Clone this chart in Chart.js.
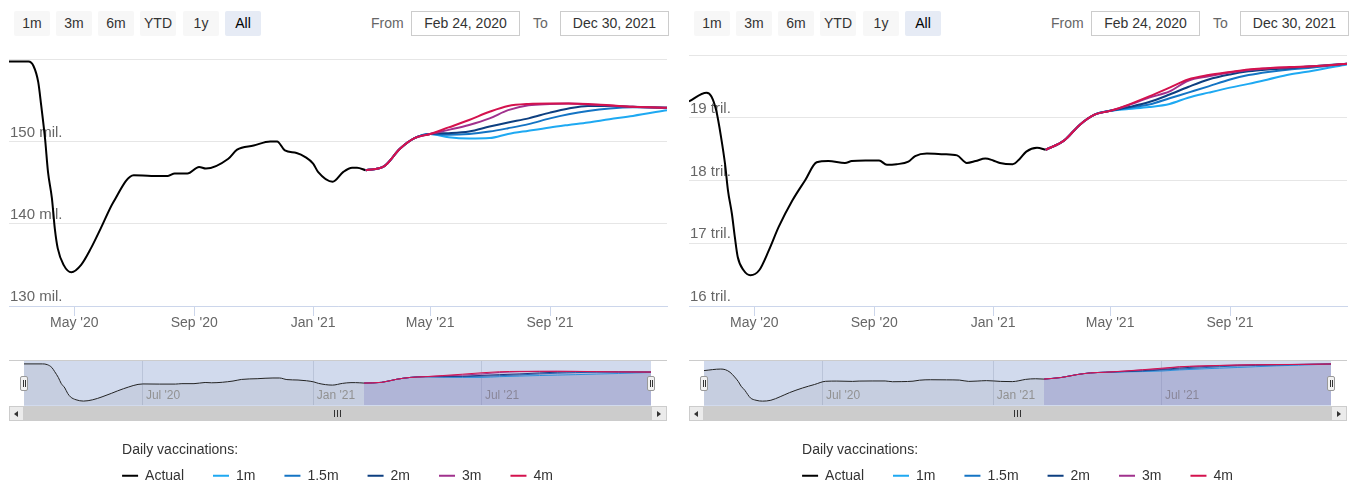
<!DOCTYPE html>
<html lang="en">
<head>
<meta charset="utf-8">
<title>Forecasts by daily vaccinations</title>
<script src="https://cdn.jsdelivr.net/npm/chart.js@4.4.1/dist/chart.umd.min.js"></script>
<style>
  html, body { margin: 0; padding: 0; background: #fff; }
  body { width: 1351px; height: 487px; overflow: hidden; position: relative;
         font-family: 'Liberation Sans', Arial, Helvetica, sans-serif; }
  .panel { position: absolute; top: 0; width: 671px; height: 487px; }
  .btn { position: absolute; top: 11px; width: 36px; height: 25px; line-height: 25px; text-align: center;
         font-size: 14px; color: #333; background: #f7f7f7; border-radius: 2px; }
  .btn.sel { background: #e6ebf5; color: #000; }
  .lbl { position: absolute; top: 11px; line-height: 25px; font-size: 14px; color: #666; }
  .date { position: absolute; top: 11px; width: 107px; height: 23px; line-height: 23px; border: 1px solid #ccc;
          text-align: center; font-size: 14px; color: #333; }
  canvas { position: absolute; left: 0; }
  .mask { position: absolute; left: 24px; top: 361px; width: 627px; height: 45px; background: rgba(102,133,194,0.3); }
  .outline { position: absolute; left: 9px; top: 360px; width: 658px; height: 1px; background: #ccc; }
  .handle { position: absolute; top: 376px; width: 8px; height: 15px; box-sizing: border-box; background: #f2f2f2;
            border: 1px solid #999; border-radius: 2px; }
  .handle::before, .handle::after { content: ''; position: absolute; top: 3px; width: 1px; height: 7px; background: #333; }
  .handle::before { left: 2px; }
  .handle::after { left: 4px; }
  .sb { position: absolute; top: 406px; height: 15px; box-sizing: border-box; }
  .sb-track { left: 9px; width: 658px; background: #f2f2f2; }
  .sb-bar { left: 24px; width: 627px; background: #ccc; }
  .sb-btn { width: 15px; background: #ebebeb; border: 1px solid #ccc; }
  .arrow { position: absolute; top: 4px; width: 0; height: 0; border-top: 3px solid transparent; border-bottom: 3px solid transparent; }
  .grip { position: absolute; top: 410px; width: 1px; height: 7px; background: #333; }
</style>
</head>
<body>
<div class="panel" id="left"></div>
<div class="panel" id="right" style="left:680px"></div>
<script>
'use strict';

const seriesNames = ['Actual', '1m', '1.5m', '2m', '3m', '4m'];
const seriesColors = ['#000000', '#1ea9f2', '#1474c4', '#0d3f80', '#a0318d', '#d4124e'];
const legendTitle = 'Daily vaccinations:';

const buttonLabels = ['1m', '3m', '6m', 'YTD', '1y', 'All'];
const fromText = 'Feb 24, 2020';
const toText = 'Dec 30, 2021';

const firstDate = '2020-02-24';
const lastDate = '2021-12-30';

const mainTickDates = ['2020-05-01', '2020-09-01', '2021-01-01', '2021-05-01', '2021-09-01'];
const mainTickLabels = ["May '20", "Sep '20", "Jan '21", "May '21", "Sep '21"];
const navTickDates = ['2020-07-01', '2021-01-01', '2021-07-01'];
const navTickLabels = ["Jul '20", "Jan '21", "Jul '21"];

const yTicksLeft = [130, 140, 150, 160];
const yRangeLeft = [130, 160.5];
const navRangeLeft = [131.4, 161.7];
const yTicksRight = [16, 17, 18, 19, 20];
const yRangeRight = [16, 20];
const navRangeRight = [16.14, 20.13];

const actualDatesLeft = ['2020-02-24', '2020-03-15', '2020-03-20', '2020-03-25', '2020-03-28', '2020-04-01',
  '2020-04-04', '2020-04-08', '2020-04-11', '2020-04-14', '2020-04-20', '2020-04-28', '2020-05-08', '2020-05-18',
  '2020-05-28', '2020-06-10', '2020-07-01', '2020-07-19', '2020-08-05', '2020-08-12', '2020-08-25', '2020-09-06',
  '2020-09-13', '2020-10-06', '2020-10-15', '2020-11-01', '2020-11-18', '2020-11-25', '2020-12-03', '2020-12-15',
  '2020-12-24', '2021-01-01', '2021-01-06', '2021-01-21', '2021-02-01', '2021-02-10', '2021-02-15', '2021-02-24'];
const actualLeft = [159.7, 159.7, 159.2, 157.2, 154.4, 150.3, 146.3, 143.1, 139.4, 137.0, 135.0, 134.1, 135.0,
  137.0, 139.4, 142.6, 145.9, 145.8, 145.8, 146.1, 146.1, 146.9, 146.7, 147.9, 149.0, 149.5, 150.0, 150.0, 148.9,
  148.6, 148.1, 147.3, 146.3, 145.1, 146.3, 146.8, 146.8, 146.5];

const actualDatesRight = ['2020-02-24', '2020-03-13', '2020-03-18', '2020-03-23', '2020-03-28', '2020-04-01',
  '2020-04-04', '2020-04-08', '2020-04-11', '2020-04-14', '2020-04-20', '2020-04-27', '2020-05-06', '2020-05-16',
  '2020-05-26', '2020-06-09', '2020-06-22', '2020-07-04', '2020-07-16', '2020-08-02', '2020-08-09', '2020-08-23',
  '2020-09-06', '2020-09-14', '2020-09-24', '2020-10-06', '2020-10-13', '2020-10-25', '2020-11-11', '2020-11-25',
  '2020-12-05', '2020-12-14', '2020-12-24', '2021-01-01', '2021-01-08', '2021-01-21', '2021-01-28', '2021-02-04',
  '2021-02-15', '2021-02-24'];
const actualRight = [19.26, 19.40, 19.34, 19.11, 18.68, 18.26, 17.84, 17.47, 17.10, 16.78, 16.57, 16.49, 16.57,
  16.89, 17.26, 17.68, 18.00, 18.29, 18.31, 18.28, 18.31, 18.32, 18.32, 18.25, 18.26, 18.30, 18.39, 18.43, 18.42,
  18.40, 18.28, 18.31, 18.35, 18.32, 18.28, 18.26, 18.34, 18.46, 18.52, 18.49];

const forecastDates = ['2021-02-24', '2021-03-15', '2021-03-31', '2021-04-15', '2021-05-01', '2021-05-20',
  '2021-06-10', '2021-07-01', '2021-07-20', '2021-08-10', '2021-09-01', '2021-09-20', '2021-10-10', '2021-11-01',
  '2021-11-25', '2021-12-30'];

const left1m  = [146.5, 147.0, 149.1, 150.4, 150.9, 150.5, 150.35, 150.4, 150.9, 151.3, 151.7, 152.0, 152.3, 152.7, 153.1, 153.8];
const left15m = [146.5, 147.0, 149.1, 150.4, 150.9, 150.8, 150.9, 151.2, 151.6, 152.1, 152.8, 153.3, 153.7, 154.0, 154.15, 154.1];
const left2m  = [146.5, 147.0, 149.1, 150.4, 150.9, 151.0, 151.2, 151.8, 152.3, 152.8, 153.5, 154.0, 154.3, 154.3, 154.2, 154.1];
const left3m  = [146.5, 147.0, 149.1, 150.4, 150.9, 151.4, 152.0, 152.8, 153.8, 154.4, 154.55, 154.6, 154.5, 154.35, 154.2, 154.1];
const left4m  = [146.5, 147.0, 149.1, 150.4, 150.9, 151.7, 152.6, 153.6, 154.3, 154.55, 154.6, 154.6, 154.55, 154.4, 154.2, 154.1];

const right1m  = [18.49, 18.64, 18.89, 19.05, 19.11, 19.14, 19.17, 19.22, 19.32, 19.40, 19.48, 19.54, 19.61, 19.69, 19.75, 19.85];
const right15m = [18.49, 18.64, 18.89, 19.05, 19.11, 19.16, 19.21, 19.31, 19.40, 19.50, 19.61, 19.68, 19.73, 19.77, 19.80, 19.86];
const right2m  = [18.49, 18.64, 18.89, 19.05, 19.11, 19.17, 19.25, 19.37, 19.49, 19.61, 19.69, 19.74, 19.77, 19.79, 19.82, 19.86];
const right3m  = [18.49, 18.64, 18.89, 19.05, 19.11, 19.20, 19.32, 19.42, 19.59, 19.66, 19.72, 19.76, 19.79, 19.80, 19.82, 19.86];
const right4m  = [18.49, 18.64, 18.89, 19.05, 19.11, 19.21, 19.34, 19.48, 19.61, 19.68, 19.73, 19.77, 19.79, 19.81, 19.82, 19.86];

Chart.defaults.font.family = "'Liberation Sans', Arial, Helvetica, sans-serif";
Chart.defaults.animation = false;

const DAY0 = Date.UTC(2020, 1, 24);
function dayOf(s) {
  const p = s.split('-').map(Number);
  return Math.round((Date.UTC(p[0], p[1] - 1, p[2]) - DAY0) / 86400000);
}

function points(dates, values) {
  return dates.map(function(d, i) { return {x: dayOf(d), y: values[i]}; });
}

function rgba(hex, a) {
  const n = parseInt(hex.slice(1), 16);
  return 'rgba(' + (n >> 16) + ',' + ((n >> 8) & 255) + ',' + (n & 255) + ',' + a + ')';
}

// legend title drawn in line with the first legend item (Chart.js centres it otherwise)
const legendTitlePlugin = {
  id: 'legendTitleStart',
  afterDraw: function(chart) {
    const lg = chart.legend;
    if (!lg || !lg.legendHitBoxes || !lg.legendHitBoxes.length) return;
    const ctx = chart.ctx;
    ctx.save();
    ctx.font = "14px 'Liberation Sans', Arial, Helvetica, sans-serif";
    ctx.fillStyle = '#333';
    ctx.textAlign = 'left';
    ctx.textBaseline = 'middle';
    ctx.fillText(legendTitle, lg.legendHitBoxes[0].left, lg.top + 41);
    ctx.restore();
  }
};

function buildDatasets(actualDates, actual, forecasts, nav) {
  return seriesNames.map(function(name, i) {
    const data = i === 0 ? points(actualDates, actual) : points(forecastDates, forecasts[i - 1]);
    return {
      label: name,
      data: data,
      borderColor: nav && i === 0 ? '#222' : seriesColors[i],
      backgroundColor: nav ? rgba(seriesColors[i], i === 0 ? 0.05 : 0.06) : seriesColors[i],
      borderWidth: nav ? 1 : 2,
      fill: nav ? 'start' : false,
      pointRadius: 0,
      cubicInterpolationMode: 'monotone',
      order: 5 - i
    };
  });
}

function addCanvas(panel, top, h) {
  const c = document.createElement('canvas');
  c.width = 671;
  c.height = h;
  c.style.top = top + 'px';
  panel.appendChild(c);
  return c;
}

function buildChrome(panel) {
  const lefts = [14, 56, 98, 140, 183, 225];
  let html = '';
  buttonLabels.forEach(function(b, i) {
    html += '<div class="btn' + (b === 'All' ? ' sel' : '') + '" style="left:' + lefts[i] + 'px">' + b + '</div>';
  });
  html += '<div class="lbl" style="left:371px">From</div>';
  html += '<div class="date" style="left:411px">' + fromText + '</div>';
  html += '<div class="lbl" style="left:533px">To</div>';
  html += '<div class="date" style="left:560px">' + toText + '</div>';
  html += '<div class="outline"></div><div class="mask"></div>';
  panel.innerHTML = html;
}

function buildScrollbar(panel) {
  let html = '<div class="sb sb-track"></div><div class="sb sb-bar"></div>';
  html += '<div class="sb sb-btn" style="left:9px"><div class="arrow" style="left:4px;border-right:4px solid #333"></div></div>';
  html += '<div class="sb sb-btn" style="left:651px;width:16px"><div class="arrow" style="left:5px;border-left:4px solid #333"></div></div>';
  html += '<div class="grip" style="left:334px"></div><div class="grip" style="left:337px"></div><div class="grip" style="left:340px"></div>';
  html += '<div class="handle" style="left:20px"></div><div class="handle" style="left:647px"></div>';
  panel.insertAdjacentHTML('beforeend', html);
}

function mainChart(panel, actualDates, actual, forecasts, yTicks, yRange, unit) {
  new Chart(addCanvas(panel, 40, 300), {
    type: 'line',
    data: { datasets: buildDatasets(actualDates, actual, forecasts, false) },
    options: {
      responsive: false,
      devicePixelRatio: 1,
      layout: { padding: { left: 7, right: 4, top: 15, bottom: 9.2 } },
      plugins: { legend: { display: false }, tooltip: { enabled: false } },
      scales: {
        x: {
          type: 'linear',
          min: 0,
          max: dayOf(lastDate),
          afterBuildTicks: function(s) { s.ticks = mainTickDates.map(function(d) { return {value: dayOf(d)}; }); },
          ticks: {
            callback: function(v, i) { return mainTickLabels[i]; },
            color: '#666', font: { size: 14 }, padding: -1, maxRotation: 0, autoSkip: false
          },
          grid: { drawOnChartArea: false, tickLength: 10, color: '#ccd6eb' },
          border: { color: '#ccd6eb' }
        },
        y: {
          min: yRange[0],
          max: yRange[1],
          afterBuildTicks: function(s) { s.ticks = yTicks.map(function(v) { return {value: v}; }); },
          ticks: {
            mirror: true, padding: 1, labelOffset: -9, color: '#666', font: { size: 15 },
            callback: function(v) { return v === yTicks[yTicks.length - 1] ? '' : v + unit; }
          },
          grid: { color: '#e6e6e6', drawTicks: false },
          border: { display: false }
        }
      }
    }
  });
}

function navChart(panel, actualDates, actual, forecasts, navRange) {
  new Chart(addCanvas(panel, 355, 140), {
    type: 'line',
    data: { datasets: buildDatasets(actualDates, actual, forecasts, true) },
    plugins: [legendTitlePlugin],
    options: {
      responsive: false,
      devicePixelRatio: 1,
      layout: { padding: { left: 24, right: 20, top: 6, bottom: 2.2 } },
      plugins: {
        tooltip: { enabled: false },
        legend: {
          position: 'bottom',
          align: 'center',
          maxHeight: 100,
          title: { display: true, text: '', font: { size: 14 }, padding: { top: 34, bottom: -20 } },
          labels: {
            usePointStyle: true, pointStyle: 'line', pointStyleWidth: 16, color: '#333',
            font: { size: 14 }, padding: 29,
            sort: function(a, b) { return a.datasetIndex - b.datasetIndex; },
            generateLabels: function(chart) {
              const items = Chart.defaults.plugins.legend.labels.generateLabels(chart);
              items.forEach(function(it) {
                it.lineWidth = 2;
                it.strokeStyle = seriesColors[it.datasetIndex];
              });
              return items;
            }
          }
        }
      },
      scales: {
        x: {
          type: 'linear',
          min: 0,
          max: dayOf(lastDate),
          afterBuildTicks: function(s) { s.ticks = navTickDates.map(function(d) { return {value: dayOf(d)}; }); },
          ticks: {
            callback: function(v, i) { return navTickLabels[i]; },
            mirror: true, align: 'start', labelOffset: 3, padding: 2,
            color: '#999', font: { size: 12 }, maxRotation: 0, autoSkip: false
          },
          grid: { drawTicks: false, color: 'rgba(120,130,160,0.25)' },
          border: { display: false }
        },
        y: { display: false, min: navRange[0], max: navRange[1] }
      }
    }
  });
}

const panelLeft = document.getElementById('left');
const panelRight = document.getElementById('right');
buildChrome(panelLeft);
buildChrome(panelRight);

mainChart(panelLeft, actualDatesLeft, actualLeft, [left1m, left15m, left2m, left3m, left4m], yTicksLeft, yRangeLeft, ' mil.');
navChart(panelLeft, actualDatesLeft, actualLeft, [left1m, left15m, left2m, left3m, left4m], navRangeLeft);
mainChart(panelRight, actualDatesRight, actualRight, [right1m, right15m, right2m, right3m, right4m], yTicksRight, yRangeRight, ' tril.');
navChart(panelRight, actualDatesRight, actualRight, [right1m, right15m, right2m, right3m, right4m], navRangeRight);

buildScrollbar(panelLeft);
buildScrollbar(panelRight);
</script>
</body>
</html>
